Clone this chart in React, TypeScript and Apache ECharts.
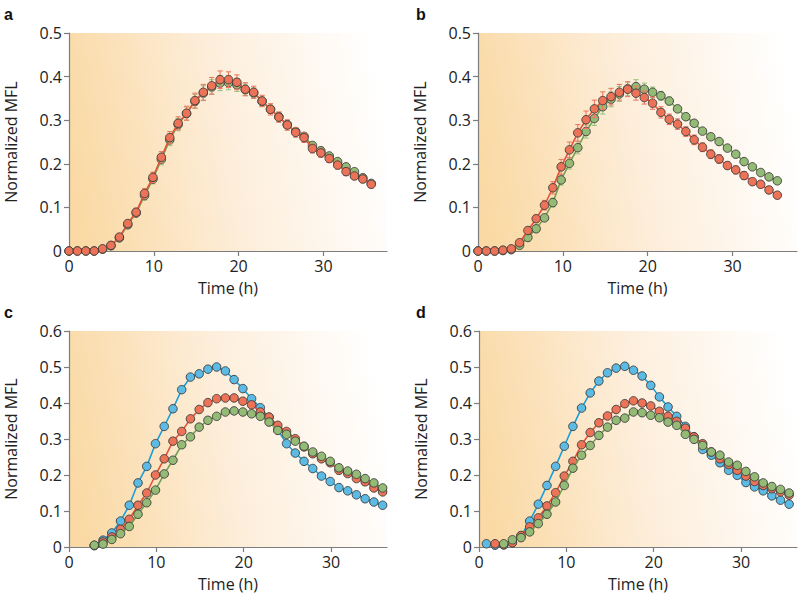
import React, { useEffect, useRef } from "react";
import * as echarts from "echarts";

// ---------- data ----------
const timesA = [0, 0.99, 1.98, 2.97, 3.96, 4.95, 5.94, 6.93, 7.92, 8.91, 9.9, 10.89, 11.88, 12.87, 13.86, 14.85, 15.84, 16.83, 17.82, 18.81, 19.8, 20.79, 21.78, 22.77, 23.76, 24.75, 25.74, 26.73, 27.72, 28.71, 29.7, 30.69, 31.68, 32.67, 33.66, 34.65, 35.64];
const aRed = [0, 0, 0, 0, 0.005, 0.013, 0.032, 0.063, 0.089, 0.132, 0.169, 0.215, 0.26, 0.293, 0.316, 0.345, 0.364, 0.379, 0.393, 0.393, 0.387, 0.371, 0.364, 0.344, 0.325, 0.307, 0.289, 0.272, 0.26, 0.235, 0.225, 0.212, 0.197, 0.182, 0.172, 0.165, 0.153];
const aGreen = [0, 0, 0, 0, 0.004, 0.012, 0.03, 0.06, 0.087, 0.127, 0.165, 0.21, 0.255, 0.29, 0.315, 0.343, 0.362, 0.376, 0.385, 0.386, 0.381, 0.37, 0.362, 0.343, 0.325, 0.308, 0.29, 0.274, 0.263, 0.242, 0.23, 0.218, 0.205, 0.193, 0.182, 0.168, 0.155];
const aRedErr = [0, 0, 0, 0, 0.002, 0.003, 0.005, 0.007, 0.009, 0.011, 0.012, 0.013, 0.014, 0.015, 0.016, 0.017, 0.018, 0.019, 0.02, 0.018, 0.017, 0.015, 0.014, 0.013, 0.013, 0.012, 0.012, 0.011, 0.011, 0.01, 0.01, 0.009, 0.009, 0.009, 0.008, 0.008, 0.008];
const aGreenErr = [0, 0, 0, 0, 0.002, 0.003, 0.004, 0.006, 0.008, 0.01, 0.011, 0.012, 0.013, 0.014, 0.015, 0.016, 0.017, 0.017, 0.017, 0.016, 0.015, 0.013, 0.012, 0.011, 0.01, 0.01, 0.009, 0.009, 0.008, 0.008, 0.008, 0.007, 0.007, 0.007, 0.006, 0.006, 0.006];

const timesB = [0, 0.98, 1.96, 2.94, 3.92, 4.9, 5.88, 6.86, 7.84, 8.82, 9.8, 10.78, 11.76, 12.74, 13.72, 14.7, 15.68, 16.66, 17.64, 18.62, 19.6, 20.58, 21.56, 22.54, 23.52, 24.5, 25.48, 26.46, 27.44, 28.42, 29.4, 30.38, 31.36, 32.34, 33.32, 34.3, 35.28];
const bRed = [0, 0, 0, 0.002, 0.005, 0.019, 0.047, 0.074, 0.105, 0.145, 0.193, 0.232, 0.271, 0.301, 0.326, 0.345, 0.354, 0.364, 0.371, 0.362, 0.352, 0.339, 0.318, 0.302, 0.291, 0.274, 0.255, 0.238, 0.222, 0.211, 0.196, 0.186, 0.173, 0.159, 0.153, 0.14, 0.128];
const bGreen = [0, 0, 0, 0.001, 0.003, 0.013, 0.031, 0.051, 0.076, 0.111, 0.163, 0.201, 0.237, 0.274, 0.304, 0.331, 0.348, 0.36, 0.372, 0.377, 0.371, 0.364, 0.356, 0.344, 0.326, 0.308, 0.293, 0.275, 0.262, 0.251, 0.236, 0.222, 0.205, 0.193, 0.18, 0.17, 0.161];
const bRedErr = [0, 0, 0, 0, 0.002, 0.004, 0.006, 0.008, 0.011, 0.014, 0.017, 0.018, 0.019, 0.02, 0.02, 0.02, 0.019, 0.018, 0.017, 0.016, 0.015, 0.014, 0.013, 0.012, 0.012, 0.011, 0.011, 0.01, 0.01, 0.01, 0.009, 0.009, 0.009, 0.008, 0.008, 0.008, 0.008];
const bGreenErr = [0, 0, 0, 0, 0.001, 0.003, 0.004, 0.006, 0.008, 0.01, 0.012, 0.013, 0.014, 0.015, 0.016, 0.017, 0.017, 0.017, 0.016, 0.016, 0.014, 0.012, 0.01, 0.009, 0.008, 0.007, 0.007, 0.006, 0.006, 0.006, 0.005, 0.005, 0.005, 0.005, 0.005, 0.005, 0.005];

const timesC = [2.9, 3.9, 4.9, 5.9, 6.9, 7.9, 8.9, 9.9, 10.9, 11.9, 12.9, 13.9, 14.9, 15.9, 16.9, 17.9, 18.9, 19.9, 20.9, 21.9, 22.9, 23.9, 24.9, 25.9, 26.9, 27.9, 28.9, 29.9, 30.9, 31.9, 32.9, 33.9, 34.9, 35.9];
const cBlue = [0.004, 0.019, 0.039, 0.072, 0.116, 0.178, 0.224, 0.287, 0.335, 0.384, 0.437, 0.472, 0.481, 0.494, 0.5, 0.489, 0.465, 0.44, 0.412, 0.387, 0.36, 0.325, 0.287, 0.261, 0.238, 0.218, 0.197, 0.182, 0.165, 0.156, 0.145, 0.134, 0.125, 0.116];
const cRed = [0.004, 0.014, 0.028, 0.049, 0.077, 0.116, 0.15, 0.2, 0.245, 0.294, 0.321, 0.356, 0.382, 0.401, 0.412, 0.414, 0.414, 0.405, 0.395, 0.375, 0.361, 0.338, 0.321, 0.301, 0.278, 0.259, 0.245, 0.234, 0.213, 0.204, 0.19, 0.181, 0.164, 0.153];
const cGreen = [0.005, 0.008, 0.021, 0.037, 0.057, 0.091, 0.123, 0.158, 0.203, 0.241, 0.284, 0.306, 0.333, 0.352, 0.363, 0.375, 0.378, 0.375, 0.37, 0.363, 0.347, 0.324, 0.313, 0.294, 0.28, 0.264, 0.252, 0.238, 0.22, 0.211, 0.202, 0.19, 0.178, 0.164];

const timesD = [0.85, 1.84, 2.83, 3.82, 4.81, 5.8, 6.79, 7.78, 8.77, 9.76, 10.75, 11.74, 12.73, 13.72, 14.71, 15.7, 16.69, 17.68, 18.67, 19.66, 20.65, 21.64, 22.63, 23.62, 24.61, 25.6, 26.59, 27.58, 28.57, 29.56, 30.55, 31.54, 32.53, 33.52, 34.51, 35.5];
const dBlue = [0.009, 0.005, 0.006, 0.012, 0.03, 0.072, 0.119, 0.171, 0.224, 0.28, 0.335, 0.386, 0.428, 0.461, 0.484, 0.497, 0.502, 0.491, 0.475, 0.449, 0.417, 0.389, 0.363, 0.335, 0.306, 0.271, 0.255, 0.234, 0.213, 0.199, 0.179, 0.167, 0.156, 0.142, 0.13, 0.119];
const dRed = [null, 0.009, 0.006, 0.012, 0.032, 0.056, 0.081, 0.114, 0.151, 0.197, 0.238, 0.284, 0.318, 0.345, 0.364, 0.382, 0.398, 0.406, 0.4, 0.392, 0.377, 0.363, 0.349, 0.33, 0.306, 0.287, 0.264, 0.245, 0.229, 0.213, 0.197, 0.182, 0.171, 0.162, 0.153, 0.144];
const dGreen = [null, null, 0.009, 0.02, 0.026, 0.042, 0.065, 0.091, 0.125, 0.171, 0.219, 0.255, 0.282, 0.31, 0.333, 0.352, 0.358, 0.375, 0.373, 0.366, 0.359, 0.347, 0.338, 0.313, 0.299, 0.282, 0.264, 0.255, 0.236, 0.227, 0.21, 0.195, 0.178, 0.168, 0.16, 0.15];

const panelLabels = ["a", "b", "c", "d"];
const xTicks = [0, 10, 20, 30];
const xMax = [37.5, 37.6, 36.4, 36.4];
const yMax = [0.5, 0.5, 0.6, 0.6];
const xTitle = "Time (h)";
const yTitle = "Normalized MFL";

// ---------- styles ----------
const FONT = "'Open Sans', 'Noto Sans', sans-serif";
const COL = {
  red: { fill: "#ec7357", line: "#e2533a", err: "#ee7a62" },
  green: { fill: "#93bb76", line: "#72a255", err: "#9cc585" },
  blue: { fill: "#5cbbe5", line: "#1c9fd8", err: "#5cbbe5" },
};

const GRIDS = [
  { left: 69, top: 33, width: 318, height: 218 },
  { left: 478, top: 33, width: 319, height: 218 },
  { left: 69, top: 331, width: 318, height: 216 },
  { left: 479, top: 331, width: 318, height: 216 },
];

const LABEL_POS = [
  { x: 4, y: 14 },
  { x: 416, y: 14 },
  { x: 4, y: 312 },
  { x: 416, y: 312 },
];

function pairs(times: number[], vals: (number | null)[]) {
  return times.map((t, i) => [t, vals[i]]).filter((p) => p[1] !== null);
}

function errData(times: number[], vals: number[], errs: number[]) {
  return times.map((t, i) => [t, vals[i], errs[i]]);
}

function lineSeries(idx: number, data: any[], c: any, z: number) {
  return {
    type: "line",
    xAxisIndex: idx,
    yAxisIndex: idx,
    data,
    symbol: "circle",
    symbolSize: 8.5,
    showAllSymbol: true,
    lineStyle: { color: c.line, width: 1.6 },
    itemStyle: { color: c.fill, borderColor: "#3b3b3b", borderWidth: 0.9 },
    emphasis: { disabled: true },
    z,
  };
}

function errSeries(idx: number, data: any[], color: string, z: number) {
  return {
    type: "custom",
    xAxisIndex: idx,
    yAxisIndex: idx,
    data,
    encode: { x: 0, y: 1 },
    z,
    silent: true,
    renderItem: (params: any, api: any) => {
      const x = api.value(0);
      const y = api.value(1);
      const e = api.value(2);
      if (!(e > 0)) return null;
      const top = api.coord([x, y + e]);
      const bot = api.coord([x, y - e]);
      const hw = 2.6;
      const st = { stroke: color, lineWidth: 1.1 };
      return {
        type: "group",
        children: [
          { type: "line", shape: { x1: top[0], y1: top[1], x2: bot[0], y2: bot[1] }, style: st },
          { type: "line", shape: { x1: top[0] - hw, y1: top[1], x2: top[0] + hw, y2: top[1] }, style: st },
          { type: "line", shape: { x1: bot[0] - hw, y1: bot[1], x2: bot[0] + hw, y2: bot[1] }, style: st },
        ],
      };
    },
  };
}

function buildOption() {
  const bg = {
    type: "linear",
    x: 0,
    y: 0.56,
    x2: 1,
    y2: 0.44,
    colorStops: [
      { offset: 0, color: "#fad9a4" },
      { offset: 0.5, color: "#fdeedb" },
      { offset: 1, color: "#ffffff" },
    ],
  };
  const axisColor = "#7d7d7d";
  const grid = GRIDS.map((g) => ({ ...g, show: true, borderWidth: 0, backgroundColor: bg, containLabel: false }));
  const xAxis = GRIDS.map((_, i) => ({
    type: "value",
    gridIndex: i,
    min: 0,
    max: xMax[i],
    interval: 10,
    name: xTitle,
    nameLocation: "middle",
    nameGap: 29,
    nameTextStyle: { fontSize: 16, color: "#222", fontFamily: FONT },
    axisLine: { show: true, onZero: false, lineStyle: { color: axisColor, width: 1.2 } },
    axisTick: { show: true, length: 5, lineStyle: { color: axisColor, width: 1.2 }, customValues: xTicks },
    axisLabel: { fontSize: 16, color: "#222", margin: 7, fontFamily: FONT, customValues: xTicks },
    splitLine: { show: false },
  }));
  const yAxis = GRIDS.map((_, i) => ({
    type: "value",
    gridIndex: i,
    min: 0,
    max: yMax[i],
    interval: 0.1,
    name: yTitle,
    nameLocation: "middle",
    nameGap: 50,
    nameTextStyle: { fontSize: 16, color: "#222", fontFamily: FONT },
    axisLine: { show: true, onZero: false, lineStyle: { color: axisColor, width: 1.2 } },
    axisTick: { show: true, length: 5, lineStyle: { color: axisColor, width: 1.2 } },
    axisLabel: {
      fontSize: 16,
      color: "#222",
      margin: 7,
      fontFamily: FONT,
      formatter: (v: number) => (v === 0 ? "0" : v.toFixed(1)),
    },
    splitLine: { show: false },
  }));

  const series: any[] = [
    // panel a
    errSeries(0, errData(timesA, aGreen, aGreenErr), COL.green.err, 2),
    lineSeries(0, pairs(timesA, aGreen), COL.green, 3),
    errSeries(0, errData(timesA, aRed, aRedErr), COL.red.err, 4),
    lineSeries(0, pairs(timesA, aRed), COL.red, 5),
    // panel b
    errSeries(1, errData(timesB, bGreen, bGreenErr), COL.green.err, 2),
    lineSeries(1, pairs(timesB, bGreen), COL.green, 3),
    errSeries(1, errData(timesB, bRed, bRedErr), COL.red.err, 4),
    lineSeries(1, pairs(timesB, bRed), COL.red, 5),
    // panel c
    lineSeries(2, pairs(timesC, cBlue), COL.blue, 3),
    lineSeries(2, pairs(timesC, cRed), COL.red, 4),
    lineSeries(2, pairs(timesC, cGreen), COL.green, 5),
    // panel d
    lineSeries(3, pairs(timesD, dBlue), COL.blue, 3),
    lineSeries(3, pairs(timesD, dRed), COL.red, 4),
    lineSeries(3, pairs(timesD, dGreen), COL.green, 5),
  ];

  const graphic = panelLabels.map((t, i) => ({
    type: "text",
    x: LABEL_POS[i].x,
    y: LABEL_POS[i].y,
    style: {
      text: t,
      font: "bold 16px 'Liberation Sans', Arial, sans-serif",
      fill: "#111",
      verticalAlign: "middle",
      align: "left",
    },
  }));

  return {
    animation: false,
    backgroundColor: "#ffffff",
    grid,
    xAxis,
    yAxis,
    series,
    graphic,
  };
}

export default function App() {
  const ref = useRef<HTMLDivElement>(null);
  useEffect(() => {
    if (!ref.current) return;
    const chart = echarts.init(ref.current, undefined, { renderer: "svg" });
    chart.setOption(buildOption() as any);
    return () => chart.dispose();
  }, []);
  return (
    <div
      ref={ref}
      style={{ position: "absolute", left: 0, top: 0, width: 800, height: 595 }}
    />
  );
}
